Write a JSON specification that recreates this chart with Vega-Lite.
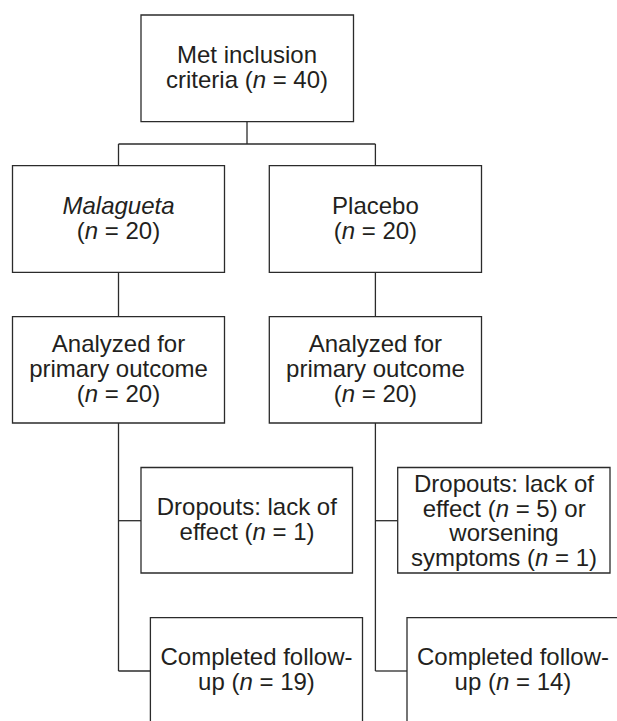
{
  "$schema": "https://vega.github.io/schema/vega-lite/v6.json",
  "width": 617,
  "height": 721,
  "padding": 0,
  "autosize": {"type": "none"},
  "background": "white",
  "config": {"view": {"stroke": null}},
  "datasets": {
    "boxes": [
      {"box": "Met inclusion", "x": 141, "x2": 353.5, "y": 15, "y2": 121.7},
      {"box": "Malagueta", "x": 12.5, "x2": 224.5, "y": 165.7, "y2": 272.3},
      {"box": "Placebo", "x": 269.3, "x2": 481.5, "y": 165.7, "y2": 272.3},
      {"box": "Analyzed M", "x": 12.5, "x2": 224.5, "y": 316.7, "y2": 423},
      {"box": "Analyzed P", "x": 269.3, "x2": 481.5, "y": 316.7, "y2": 423},
      {"box": "Dropouts M", "x": 141, "x2": 352.5, "y": 467.5, "y2": 573},
      {"box": "Dropouts P", "x": 397.7, "x2": 610, "y": 467.5, "y2": 573},
      {"box": "Completed M", "x": 150.4, "x2": 362.5, "y": 617.7, "y2": 760},
      {"box": "Completed P", "x": 407, "x2": 619, "y": 617.7, "y2": 760}
    ],
    "links": [
      {"x": 247, "x2": 247, "y": 121.7, "y2": 144},
      {"x": 118.5, "x2": 375.4, "y": 144, "y2": 144},
      {"x": 118.5, "x2": 118.5, "y": 144, "y2": 165.7},
      {"x": 375.4, "x2": 375.4, "y": 144, "y2": 165.7},
      {"x": 118.5, "x2": 118.5, "y": 272.3, "y2": 316.7},
      {"x": 375.4, "x2": 375.4, "y": 272.3, "y2": 316.7},
      {"x": 118.5, "x2": 118.5, "y": 423, "y2": 671},
      {"x": 118.5, "x2": 141, "y": 520.7, "y2": 520.7},
      {"x": 118.5, "x2": 150.4, "y": 671, "y2": 671},
      {"x": 375.4, "x2": 375.4, "y": 423, "y2": 671},
      {"x": 375.4, "x2": 397.7, "y": 520.7, "y2": 520.7},
      {"x": 375.4, "x2": 407, "y": 671, "y2": 671}
    ],
    "labels": [
      {"x": 247, "y": 63.3, "t": "Met inclusion"},
      {"x": 375.4, "y": 214, "t": "Placebo"},
      {"x": 118.5, "y": 351.7, "t": "Analyzed for"},
      {"x": 118.5, "y": 376.7, "t": "primary outcome"},
      {"x": 375.4, "y": 351.7, "t": "Analyzed for"},
      {"x": 375.4, "y": 376.7, "t": "primary outcome"},
      {"x": 246.8, "y": 515, "t": "Dropouts: lack of"},
      {"x": 504, "y": 492, "t": "Dropouts: lack of"},
      {"x": 504, "y": 541, "t": "worsening"},
      {"x": 256.5, "y": 665, "t": "Completed follow-"},
      {"x": 513, "y": 665, "t": "Completed follow-"},
      {"x": 118.5, "y": 214, "it": "Malagueta"},
      {"x": 252.64, "y": 88.3, "pre": "criteria (", "v": "n", "post": "= 40)"},
      {"x": 84.81, "y": 239, "pre": "(", "v": "n", "post": "= 20)"},
      {"x": 341.71, "y": 239, "pre": "(", "v": "n", "post": "= 20)"},
      {"x": 84.81, "y": 401.7, "pre": "(", "v": "n", "post": "= 20)"},
      {"x": 341.71, "y": 401.7, "pre": "(", "v": "n", "post": "= 20)"},
      {"x": 252.47, "y": 540, "pre": "effect (", "v": "n", "post": "= 1)"},
      {"x": 495.67, "y": 516.5, "pre": "effect (", "v": "n", "post": "= 5) or"},
      {"x": 534.98, "y": 565.5, "pre": "symptoms (", "v": "n", "post": "= 1)"},
      {"x": 239.48, "y": 690, "pre": "up (", "v": "n", "post": "= 19)"},
      {"x": 495.98, "y": 690, "pre": "up (", "v": "n", "post": "= 14)"}
    ]
  },
  "encoding": {
    "x": {"field": "x", "type": "quantitative", "scale": {"domain": [0, 617], "nice": false, "zero": false}, "axis": null},
    "y": {"field": "y", "type": "quantitative", "scale": {"domain": [0, 721], "nice": false, "zero": false, "reverse": true}, "axis": null}
  },
  "layer": [
    {
      "data": {"name": "links"},
      "mark": {"type": "rule", "stroke": "#2b2b2b", "strokeWidth": 1.3},
      "encoding": {"x2": {"field": "x2"}, "y2": {"field": "y2"}}
    },
    {
      "data": {"name": "boxes"},
      "mark": {"type": "rect", "fill": "white", "stroke": "#2b2b2b", "strokeWidth": 1.3, "clip": true},
      "encoding": {"x2": {"field": "x2"}, "y2": {"field": "y2"}}
    },
    {
      "data": {"name": "labels"},
      "transform": [{"filter": "isValid(datum.t)"}],
      "mark": {"type": "text", "font": "Liberation Sans", "fontSize": 24, "fill": "#231f20", "align": "center", "baseline": "alphabetic"},
      "encoding": {"text": {"field": "t"}}
    },
    {
      "data": {"name": "labels"},
      "transform": [{"filter": "isValid(datum.it)"}],
      "mark": {"type": "text", "font": "Liberation Sans", "fontSize": 24, "fontStyle": "italic", "fill": "#231f20", "align": "center", "baseline": "alphabetic"},
      "encoding": {"text": {"field": "it"}}
    },
    {
      "data": {"name": "labels"},
      "transform": [{"filter": "isValid(datum.pre)"}],
      "mark": {"type": "text", "font": "Liberation Sans", "fontSize": 24, "fill": "#231f20", "align": "right", "baseline": "alphabetic"},
      "encoding": {"text": {"field": "pre"}}
    },
    {
      "data": {"name": "labels"},
      "transform": [{"filter": "isValid(datum.v)"}],
      "mark": {"type": "text", "font": "Liberation Sans", "fontSize": 24, "fontStyle": "italic", "fill": "#231f20", "align": "left", "baseline": "alphabetic"},
      "encoding": {"text": {"field": "v"}}
    },
    {
      "data": {"name": "labels"},
      "transform": [{"filter": "isValid(datum.post)"}],
      "mark": {"type": "text", "font": "Liberation Sans", "fontSize": 24, "fill": "#231f20", "align": "left", "baseline": "alphabetic", "dx": 20},
      "encoding": {"text": {"field": "post"}}
    }
  ]
}
